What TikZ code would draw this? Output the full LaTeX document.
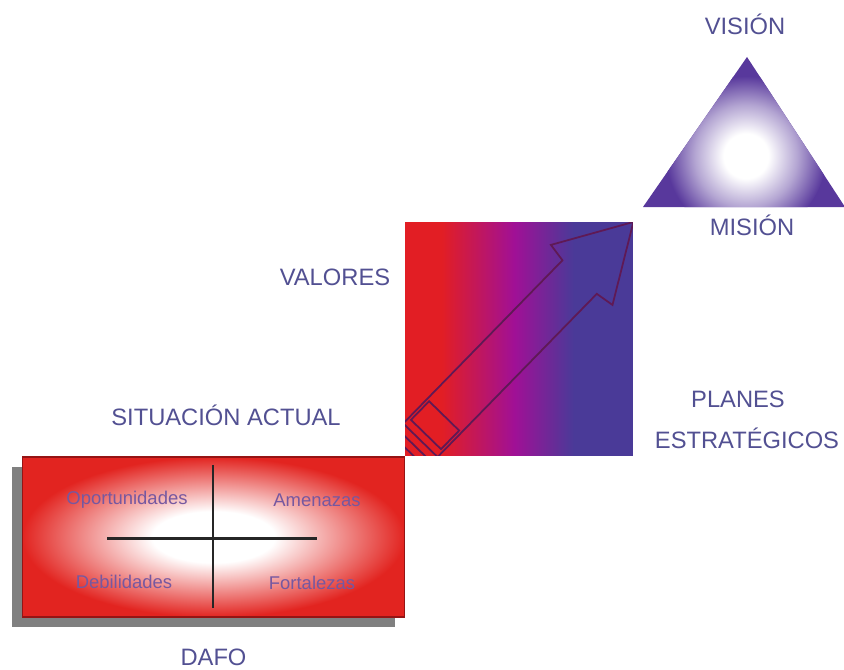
\documentclass[tikz,border=0pt]{standalone}
\usepackage{fontspec}
\setmainfont{Liberation Sans}
\usepackage{xcolor}
\usepackage{tikz}
\usetikzlibrary{shapes.geometric, arrows.meta, positioning, shadows, calc}

\definecolor{labelblue}{RGB}{82,80,146}
\definecolor{quadtext}{RGB}{118,88,160}
\definecolor{dafored}{RGB}{226,36,32}
\definecolor{dafoline}{RGB}{150,20,20}
\definecolor{shadowgray}{RGB}{128,128,128}
\definecolor{sqred}{RGB}{226,30,36}
\definecolor{sqmag}{RGB}{160,16,150}
\definecolor{sqblue}{RGB}{74,58,152}
\definecolor{tripurple}{RGB}{88,56,156}
\definecolor{arrowline}{RGB}{95,25,85}

\pgfdeclareradialshading{dafoglow}{\pgfpointorigin}{color(0bp)=(white); color(8bp)=(white); color(25bp)=(dafored); color(50bp)=(dafored)}
\pgfdeclarehorizontalshading{valoresfade}{100bp}{color(0bp)=(sqred); color(33bp)=(sqred); color(49bp)=(sqmag); color(62bp)=(sqblue); color(100bp)=(sqblue)}
\pgfdeclareradialshading{triglow}{\pgfpointorigin}{color(0bp)=(white); color(7bp)=(white); color(16bp)=(tripurple!45!white); color(25bp)=(tripurple); color(50bp)=(tripurple)}

\begin{document}
\begin{tikzpicture}[
  x=0.02cm, y=-0.02cm,
  dafobox/.style={shade, shading=dafoglow, draw=dafoline, line width=0.6pt,
    minimum width=7.66cm, minimum height=3.2cm, outer sep=0pt,
    drop shadow={shadow xshift=-0.2cm, shadow yshift=-0.2cm, fill=shadowgray, opacity=1}},
  sqbox/.style={shade, shading=valoresfade, minimum width=4.56cm, minimum height=4.68cm, outer sep=0pt},
  caption/.style={font=\fontsize{13.5}{16}\selectfont, text=labelblue, inner sep=0pt, anchor=base},
  quad/.style={font=\fontsize{10.5}{13}\selectfont, text=quadtext, inner sep=0pt},
  cross/.style={line width=1.7pt, black!85},
  arrowpart/.style={draw=arrowline, line width=1pt, line join=miter},
]
  \useasboundingbox (0,0) rectangle (844,669);

  % DAFO box
  \node[dafobox] (dafo) at (213.5,537) {};
  \draw[cross] (213,465) -- (213,608);
  \draw[cross] (107,538) -- (317,538);
  \node[quad] (oport) at (127,500) {Oportunidades};
  \node[quad] (amen)  at (317,500) {Amenazas};
  \node[quad] (debil) at (124,582) {Debilidades};
  \node[quad] (forta) at (312,583) {Fortalezas};

  % values square with arrow
  \node[sqbox] (valores) at (519,339) {};
  \begin{scope}
    \clip (valores.south west) rectangle (valores.north east);
    \begin{scope}[shift={(valores.south west)}, rotate=45.7]
      \draw[arrowpart] (-20,24) -- (250,24) -- (253,43) -- (327,0) -- (253,-43) -- (250,-24) -- (-20,-24);
      \draw[arrowpart] (30,-21) rectangle (56,21);
      \foreach \u in {6,14,22}
        \draw[arrowpart] (\u,-24) -- (\u,24);
    \end{scope}
  \end{scope}

  % vision triangle
  \coordinate (apex) at (747,57);
  \coordinate (tl) at (643,207);
  \coordinate (tr) at (845,207);
  \fill[tripurple] (apex) -- (tl) -- (tr) -- cycle;
  \begin{scope}
    \clip (apex) -- (tl) -- (tr) -- cycle;
    \shade[shading=triglow] (746,156) circle (80);
  \end{scope}

  % labels
  \node[caption] (valoreslab) at (335,285) {VALORES};
  \node[caption] (situacion) at (226,425) {SITUACIÓN ACTUAL};
  \node[caption] (planes) at (738,407) {PLANES};
  \node[caption] (estrat) at (747,448) {ESTRATÉGICOS};
  \node[caption] (vision) at (745,35) {VISIÓN};
  \node[caption] (mision) at (752,235) {MISIÓN};
  \node[caption, below=0.64cm of dafo] (dafolab) {DAFO};
\end{tikzpicture}
\end{document}
